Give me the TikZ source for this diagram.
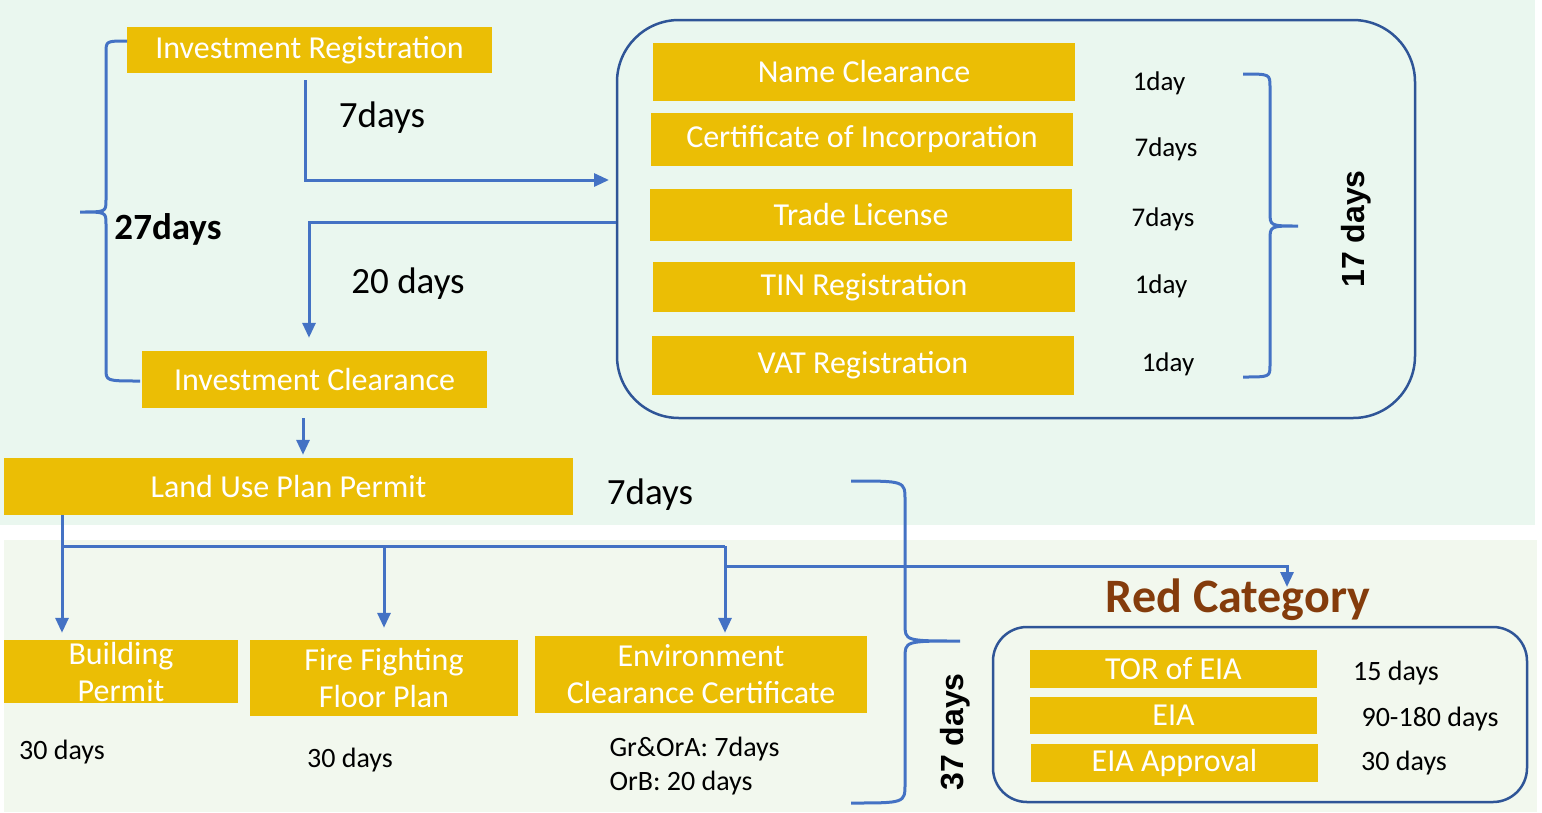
\documentclass[tikz,border=0pt]{standalone}
\usepackage{fontspec}
\setmainfont{Carlito}
\newfontfamily\arialfont{Liberation Sans}
\usetikzlibrary{arrows.meta}

\definecolor{gold}{HTML}{EBBE05}
\definecolor{flowblue}{HTML}{4472C4}
\definecolor{edgeblue}{HTML}{2F5597}
\definecolor{topbg}{HTML}{EAF7EF}
\definecolor{botbg}{HTML}{F2F8EE}
\definecolor{redcat}{HTML}{843C0C}

\tikzset{
    goldbox/.style={fill=gold, text=white, inner sep=0pt, align=center,
        font=\fontsize{32}{37}\selectfont},
    flow/.style={flowblue, line width=3pt, -{Triangle[length=15pt,width=13pt]}},
    brk/.style={flowblue, line width=3pt},
    bigday/.style={font=\fontsize{37}{40}\selectfont},
    midday/.style={font=\fontsize{28}{34}\selectfont, align=left},
    smallday/.style={font=\fontsize{27}{30}\selectfont},
    total/.style={font=\arialfont\bfseries\fontsize{32}{36}\selectfont, rotate=90},
}

\begin{document}
\begin{tikzpicture}[x=1pt,y=-1pt]
    \useasboundingbox (0,0) rectangle (1542,812);
    \fill[topbg] (0,0) rectangle (1535,525);
    \fill[botbg] (4,540) rectangle (1537,812);

    % investment steps
    \node[goldbox, minimum width=365pt, minimum height=46pt] (invreg) at (309.5,50) {Investment Registration};
    \node[goldbox, minimum width=345pt, minimum height=57pt] (invclr) at (314.5,379.5) {Investment Clearance};
    \node[goldbox, minimum width=569pt, minimum height=57pt] (landuse) at (288.5,486.5) {Land Use Plan Permit};

    % company registration
    \node[draw=edgeblue, line width=2.5pt, rounded corners=62pt,
        minimum width=798pt, minimum height=398pt] (regbox) at (1016,219) {};
    \node[goldbox, minimum width=422pt, minimum height=58pt] (name) at (864,72) {Name Clearance};
    \node[goldbox, minimum width=422pt, minimum height=53pt] (cert) at (862,139.5) {Certificate of Incorporation};
    \node[goldbox, minimum width=422pt, minimum height=52pt] (trade) at (861,215) {Trade License};
    \node[goldbox, minimum width=422pt, minimum height=50pt] (tin) at (864,287) {TIN Registration};
    \node[goldbox, minimum width=422pt, minimum height=59pt] (vat) at (863,365.5) {VAT Registration};

    \node[smallday] (dname) at (1159,83) {1day};
    \node[smallday] (dcert) at (1166,149) {7days};
    \node[smallday] (dtrade) at (1163,219) {7days};
    \node[smallday] (dtin) at (1161,286) {1day};
    \node[smallday] (dvat) at (1168,364) {1day};

    \node[bigday] (d7a) at (382,118) {7days};
    \node[bigday] (d20) at (408,284) {20 days};
    \node[bigday, font=\bfseries\fontsize{37}{40}\selectfont] (d27) at (168,229) {27days};
    \node[bigday] (d7b) at (650,495) {7days};
    \node[total] (d17) at (1356,229) {17 days};

    \coordinate (regin) at (609,180);
    \draw[flow] ([xshift=-4.5pt,yshift=-7pt]invreg.south) |- (regin);
    \draw[flow] ([yshift=-3pt]regbox.west) -| ([xshift=-5.5pt,yshift=13pt]invclr.north);
    \draw[flow] ([xshift=-11.5pt,yshift=-10pt]invclr.south) -- ([xshift=14.5pt,yshift=3pt]landuse.north);

    % braces
    \draw[brk] (127,41) .. controls (106,41) .. (106,53) -- (106,200)
        .. controls (106,212) .. (80,212) .. controls (106,212) .. (106,224)
        -- (106,369) .. controls (106,381) .. (140,381);
    \draw[brk] (1243,74) .. controls (1270,74) .. (1270,87) -- (1270,212)
        .. controls (1270,226) .. (1298,226) .. controls (1270,226) .. (1270,240)
        -- (1270,365) .. controls (1270,377) .. (1243,377);
    \draw[brk] (851,481) .. controls (905,481) .. (905,500) -- (905,624)
        .. controls (905,641) .. (960,641) .. controls (905,641) .. (905,658)
        -- (905,784) .. controls (905,803) .. (851,803);

    % building permits
    \node[goldbox, minimum width=234pt, minimum height=63pt] (building) at (121,671.5) {Building\\Permit};
    \node[goldbox, minimum width=268pt, minimum height=76pt] (fire) at (384,678) {Fire Fighting\\Floor Plan};
    \node[goldbox, minimum width=332pt, minimum height=77pt] (env) at (701,674.5) {Environment\\Clearance Certificate};

    \node[midday] (dbuild) at (62,752) {30 days};
    \node[midday] (dfire) at (350,760) {30 days};
    \node[midday, anchor=west] (denv) at (606,766) {Gr\&OrA: 7days\\OrB: 20 days};

    \coordinate (split) at (62,546);
    \coordinate (envtop) at (725,546);
    \coordinate (redfork) at (725,566);
    \coordinate (redin) at (1287,587);
    \draw[brk] (landuse.south -| split) -- (split) -- (envtop);
    \draw[flow] (split) -- ([yshift=7pt]building.north -| split);
    \draw[flow] (split -| fire.north) -- ([yshift=12pt]fire.north);
    \draw[flow] (envtop) -- ([yshift=3pt]env.north -| envtop);
    \draw[flow] (redfork) -| (redin);

    % red category
    \node[text=redcat, font=\bfseries\fontsize{48}{52}\selectfont] (redtitle) at (1238,600) {Red Category};
    \node[draw=edgeblue, line width=2.5pt, rounded corners=34pt,
        minimum width=534pt, minimum height=175pt] (redbox) at (1260,714.5) {};
    \node[goldbox, minimum width=287pt, minimum height=38pt] (tor) at (1173.5,669) {TOR of EIA};
    \node[goldbox, minimum width=287pt, minimum height=37pt] (eia) at (1173.5,715.5) {EIA};
    \node[goldbox, minimum width=287pt, minimum height=38pt] (eiaapp) at (1174.5,763) {EIA Approval};

    \node[midday] (dtor) at (1396,673) {15 days};
    \node[midday] (deia) at (1430,719) {90-180 days};
    \node[midday] (deiaapp) at (1404,763) {30 days};
    \node[total] (d37) at (955,732) {37 days};

\end{tikzpicture}
\end{document}
